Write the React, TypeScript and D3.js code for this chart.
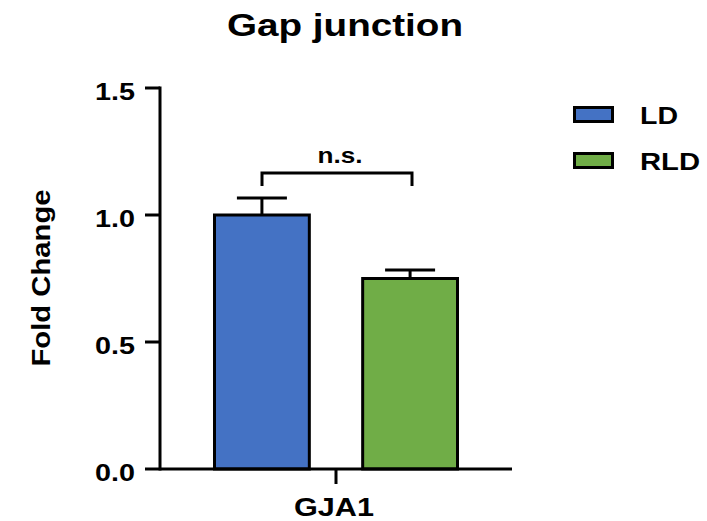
import React from "react";
import * as d3 from "d3";

const groups = ["LD", "RLD"];
const means = [1.0, 0.75];
const errors = [0.067, 0.033];
const colors = ["#4472C4", "#70AD47"];
const category = "GJA1";
const yTicks = [0, 0.5, 1.0, 1.5];

const W = 707;
const H = 521;
const FONT = "Liberation Sans, Arial, sans-serif";

export default function App() {
  const x0 = 160;
  const x1 = 512;
  const y = d3.scaleLinear().domain([0, 1.5]).range([469, 88]);
  const x = d3.scaleBand<string>().domain(groups).range([214.5, 457.5]).paddingInner(0.36).paddingOuter(0);
  const bw = x.bandwidth();
  const capHalf = 25;
  const tickX = (x0 + x1) / 2;
  const bracketY = 173;
  const legendWidths = [38, 60];

  return (
    <svg width={W} height={H} style={{ position: "absolute", left: 0, top: 0 }}>
      <rect width={W} height={H} fill="#fff" />
      <text x={345} y={36} textAnchor="middle" fontFamily={FONT} fontWeight="bold" fontSize={32}
        textLength={236} lengthAdjust="spacingAndGlyphs">
        Gap junction
      </text>

      {/* bars with error bars */}
      {groups.map((g, i) => {
        const cx = x(g)! + bw / 2;
        return (
          <g key={g}>
            <line x1={cx} x2={cx} y1={y(means[i])} y2={y(means[i] + errors[i])} stroke="#000" strokeWidth={3} />
            <line x1={cx - capHalf} x2={cx + capHalf} y1={y(means[i] + errors[i])} y2={y(means[i] + errors[i])} stroke="#000" strokeWidth={3} />
            <rect x={x(g)} y={y(means[i])} width={bw} height={y(0) - y(means[i])} fill={colors[i]} stroke="#000" strokeWidth={3} />
          </g>
        );
      })}

      {/* y axis */}
      <line x1={x0} x2={x0} y1={y(1.5) - 1.5} y2={y(0) + 1.5} stroke="#000" strokeWidth={3} />
      {yTicks.map((t) => (
        <g key={t}>
          <line x1={x0 - 15} x2={x0} y1={y(t)} y2={y(t)} stroke="#000" strokeWidth={3} />
          <text x={135} y={y(t) + 12} textAnchor="end" fontFamily={FONT} fontWeight="bold" fontSize={24}
            textLength={40} lengthAdjust="spacingAndGlyphs">
            {d3.format(".1f")(t)}
          </text>
        </g>
      ))}
      <text
        transform={`translate(50,${278}) rotate(-90)`}
        textAnchor="middle"
        fontFamily={FONT}
        fontWeight="bold"
        fontSize={26}
        textLength={177}
        lengthAdjust="spacingAndGlyphs"
      >
        Fold Change
      </text>

      {/* x axis */}
      <line x1={x0} x2={x1} y1={y(0)} y2={y(0)} stroke="#000" strokeWidth={3} />
      <line x1={tickX} x2={tickX} y1={y(0)} y2={y(0) + 15} stroke="#000" strokeWidth={3} />
      <text x={334} y={516} textAnchor="middle" fontFamily={FONT} fontWeight="bold" fontSize={26}
        textLength={80} lengthAdjust="spacingAndGlyphs">
        {category}
      </text>

      {/* significance bracket */}
      <path
        d={`M262,${bracketY + 13}V${bracketY}H412V${bracketY + 13}`}
        fill="none"
        stroke="#000"
        strokeWidth={3}
      />
      <text x={340} y={163} textAnchor="middle" fontFamily={FONT} fontWeight="bold" fontSize={22}
        textLength={45} lengthAdjust="spacingAndGlyphs">
        n.s.
      </text>

      {/* legend */}
      {groups.map((g, i) => (
        <g key={g} transform={`translate(0,${i * 46})`}>
          <rect x={574.5} y={107.5} width={38} height={14} fill={colors[i]} stroke="#000" strokeWidth={3} />
          <text x={640} y={124} fontFamily={FONT} fontWeight="bold" fontSize={24}
            textLength={legendWidths[i]} lengthAdjust="spacingAndGlyphs">
            {g}
          </text>
        </g>
      ))}
    </svg>
  );
}
